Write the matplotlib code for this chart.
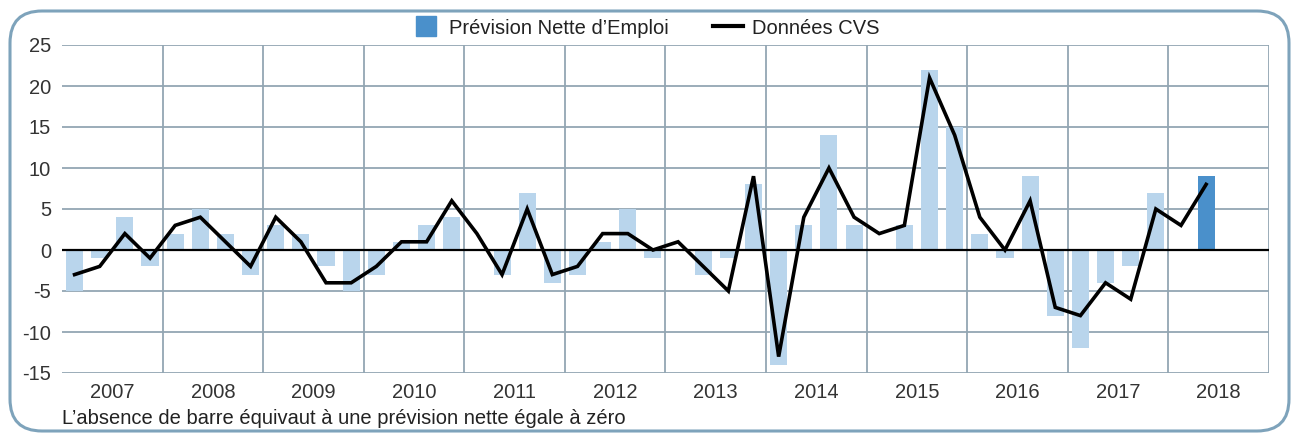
#!/usr/bin/env python3
"""
Prévision Nette d'Emploi vs Données CVS, quarterly 2007-2018.
"""

import numpy as np
import matplotlib
matplotlib.use("Agg")
import matplotlib.pyplot as plt
from matplotlib.lines import Line2D
from matplotlib.patches import FancyBboxPatch
from matplotlib.transforms import IdentityTransform

plt.rcParams['font.family'] = ['Liberation Sans', 'DejaVu Sans']
plt.rcParams['axes.unicode_minus'] = False

# quarterly data, Q1 2007 .. Q2 2018
years = ['2007', '2008', '2009', '2010', '2011', '2012',
         '2013', '2014', '2015', '2016', '2017', '2018']
net_outlook = [-5, -1, 4, -2,
               2, 5, 2, -3,
               3, 2, -2, -5,
               -3, 1, 3, 4,
               0, -3, 7, -4,
               -3, 1, 5, -1,
               0, -3, -1, 8,
               -14, 3, 14, 3,
               0, 3, 22, 15,
               2, -1, 9, -8,
               -12, -4, -2, 7,
               0, 9]
cvs = [-3, -2, 2, -1,
       3, 4, 1, -2,
       4, 1, -4, -4,
       -2, 1, 1, 6,
       2, -3, 5, -3,
       -2, 2, 2, 0,
       1, -2, -5, 9,
       -13, 4, 10, 4,
       2, 3, 21, 14,
       4, 0, 6, -7,
       -8, -4, -6, 5,
       3, 8]
y_ticks = [-15, -10, -5, 0, 5, 10, 15, 20, 25]

LIGHT = '#b9d5ec'
DARK = '#4a90cb'
GRID = '#93a6b3'
TXT = '#333333'
FS = 14.5

W, H = 1293, 434
fig = plt.figure(figsize=(W / 100, H / 100), dpi=100)
fig.patch.set_facecolor('white')

# rounded frame around the whole chart (pixel coords, origin bottom-left)
frame = FancyBboxPatch((10, 3), 1279, H - 3 - 11,
                       boxstyle="round,pad=0,rounding_size=32",
                       transform=IdentityTransform(), facecolor='white',
                       edgecolor='#7ea3bb', linewidth=2.2, zorder=-5)
fig.add_artist(frame)

ax = fig.add_axes([62 / W, 1 - 373 / H, 1207 / W, 328 / H])
ax.set_facecolor('none')

x = np.arange(len(net_outlook))
colors = [LIGHT] * (len(net_outlook) - 1) + [DARK]
ax.bar(x, net_outlook, width=0.68, color=colors, zorder=2)
ax.plot(x, cvs, color='black', linewidth=2.6, zorder=4,
        solid_joinstyle='miter')

n_cells = len(years)
ax.set_xlim(-0.5, n_cells * 4 - 0.5)
ax.set_ylim(-15, 25)

# grid
for yv in y_ticks:
    if yv != 0:
        ax.axhline(yv, color=GRID, linewidth=1.3, zorder=1)
ax.axhline(0, color='black', linewidth=1.6, zorder=3)
for k in range(1, n_cells + 1):
    ax.axvline(4 * k - 0.5, color=GRID, linewidth=1.3, zorder=1)

for s in ax.spines.values():
    s.set_visible(False)

ax.set_yticks(y_ticks)
ax.set_yticklabels([str(v) for v in y_ticks])
ax.set_xticks([4 * k + 1.5 for k in range(n_cells)])
ax.set_xticklabels(years)
ax.tick_params(axis='both', length=0, labelsize=FS, labelcolor=TXT)
ax.tick_params(axis='y', pad=8)
ax.tick_params(axis='x', pad=7)

handles = [Line2D([], [], marker='s', markersize=15, linestyle='none',
                  color=DARK),
           Line2D([], [], color='black', linewidth=3)]
fig.legend(handles, ['Prévision Nette d\u2019Emploi', 'Données CVS'],
           loc='center', bbox_to_anchor=(645 / W, 1 - 28 / H), ncol=2,
           frameon=False, fontsize=FS, handlelength=1.5,
           handletextpad=0.4, columnspacing=2.2, labelcolor='#222222')

fig.text(62 / W, 1 - 424 / H,
         'L\u2019absence de barre équivaut à une prévision nette égale à zéro',
         fontsize=FS, color='#222222', va='baseline', ha='left')

fig.savefig('out.png', dpi=100, facecolor='white')
